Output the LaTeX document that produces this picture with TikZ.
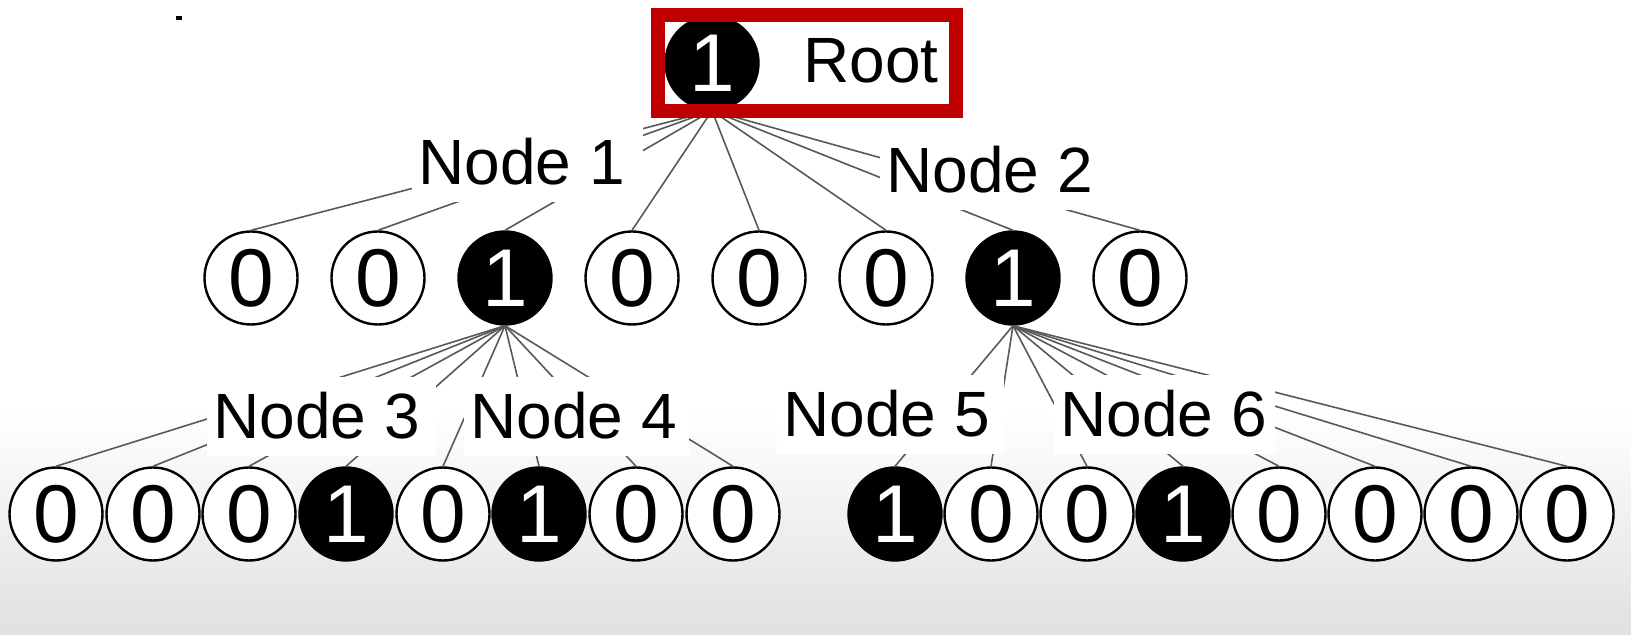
\documentclass[tikz,border=0pt]{standalone}
\usepackage{fontspec}
\setmainfont{Liberation Sans}
\usepackage{xcolor}
\usetikzlibrary{shadings}
\definecolor{boxred}{RGB}{192,0,0}

\tikzset{
  bit/.style={draw,circle,line width=1.2pt,inner sep=0pt,minimum size=46.5pt,fill=white,
    font=\fontsize{41}{48}\selectfont},
  onebit/.style={bit,fill=black,text=white},
  lbl/.style={fill=white,inner xsep=3pt,inner ysep=8pt,anchor=base west,
    font=\fontsize{32}{38}\selectfont},
  wire/.style={draw=black!65,line width=0.8pt}
}

\begin{document}
\begin{tikzpicture}[x=0.5pt,y=-0.5pt]
\useasboundingbox (0,0) rectangle (1631,635);
\fill[white] (0,0) rectangle (1631,635);
\shade[top color=white,bottom color=black!12] (0,410) rectangle (1631,635);
\fill (176,16) rectangle (182,20);

% bits
\node[onebit](r) at (712,63){1};
\node[bit](a1) at (251,278){0};
\node[bit](a2) at (378,278){0};
\node[onebit](a3) at (505,278){1};
\node[bit](a4) at (632,278){0};
\node[bit](a5) at (759,278){0};
\node[bit](a6) at (886,278){0};
\node[onebit](a7) at (1013,278){1};
\node[bit](a8) at (1140,278){0};

\node[bit](b1) at (56,514){0};
\node[bit](b2) at (153,514){0};
\node[bit](b3) at (249,514){0};
\node[onebit](b4) at (346,514){1};
\node[bit](b5) at (443,514){0};
\node[onebit](b6) at (539,514){1};
\node[bit](b7) at (636,514){0};
\node[bit](b8) at (733,514){0};
\node[onebit](b9) at (895,514){1};
\node[bit](b10) at (991,514){0};
\node[bit](b11) at (1087,514){0};
\node[onebit](b12) at (1183,514){1};
\node[bit](b13) at (1279,514){0};
\node[bit](b14) at (1375,514){0};
\node[bit](b15) at (1471,514){0};
\node[bit](b16) at (1567,514){0};

% links
\draw[wire] (r.south) -- (a1.north);
\draw[wire] (r.south) -- (a2.north);
\draw[wire] (r.south) -- (a3.north);
\draw[wire] (r.south) -- (a4.north);
\draw[wire] (r.south) -- (a5.north);
\draw[wire] (r.south) -- (a6.north);
\draw[wire] (r.south) -- (a7.north);
\draw[wire] (r.south) -- (a8.north);
\draw[wire] (a3.south) -- (b1.north);
\draw[wire] (a3.south) -- (b2.north);
\draw[wire] (a3.south) -- (b3.north);
\draw[wire] (a3.south) -- (b4.north);
\draw[wire] (a3.south) -- (b5.north);
\draw[wire] (a3.south) -- (b6.north);
\draw[wire] (a3.south) -- (b7.north);
\draw[wire] (a3.south) -- (b8.north);
\draw[wire] (a7.south) -- (b9.north);
\draw[wire] (a7.south) -- (b10.north);
\draw[wire] (a7.south) -- (b11.north);
\draw[wire] (a7.south) -- (b12.north);
\draw[wire] (a7.south) -- (b13.north);
\draw[wire] (a7.south) -- (b14.north);
\draw[wire] (a7.south) -- (b15.north);
\draw[wire] (a7.south) -- (b16.north);

% labels
\node[lbl](n1) at (412,185){Node 1\kern6pt};
\node[lbl](n2) at (880,193){Node 2\kern3pt};
\node[lbl](n3) at (207,439){Node 3\kern5pt};
\node[lbl](n4) at (464,439){Node 4\kern3pt};
\node[lbl](n5) at (777,437){Node 5\kern4pt};
\node[lbl](n6) at (1054,437){Node 6\kern1pt};

% root box
\node[anchor=base,font=\fontsize{32}{38}\selectfont](rt) at (871,83){Root};
\draw[boxred,line width=7pt] (658,15) rectangle (956,111);
\end{tikzpicture}
\end{document}
